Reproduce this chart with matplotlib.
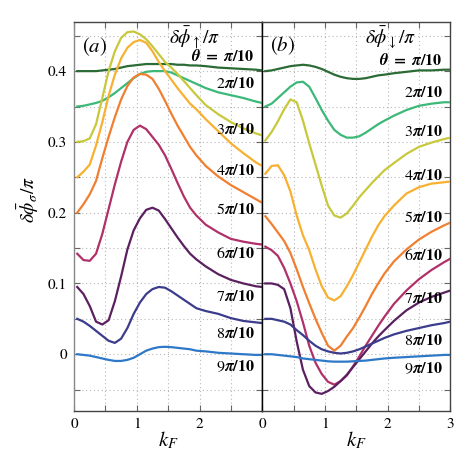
import matplotlib
matplotlib.use("Agg")
import matplotlib.pyplot as plt

# gemeinsames k_F-Raster
kf = [0.05, 0.15, 0.25, 0.35, 0.45, 0.55, 0.65, 0.75, 0.85, 0.95,
      1.05, 1.15, 1.25, 1.35, 1.45, 1.55, 1.65, 1.75, 1.85, 1.95,
      2.1, 2.3, 2.5, 2.7, 2.9, 3.0]

labels = ["π/10", "2π/10", "3π/10", "4π/10", "5π/10", "6π/10", "7π/10", "8π/10", "9π/10"]
colors = ["#2b6b35", "#3cb878", "#c8c83c", "#f8b030", "#f07f30",
          "#b0306a", "#5a2060", "#3b3c8c", "#2e78c8"]

# (a) delta phi_up / pi
up_1 = [0.400, 0.400, 0.400, 0.400, 0.401, 0.402, 0.403, 0.405, 0.407, 0.408,
        0.409, 0.410, 0.410, 0.410, 0.410, 0.410, 0.409, 0.409, 0.408, 0.408,
        0.407, 0.405, 0.404, 0.403, 0.402, 0.401]
up_2 = [0.350, 0.351, 0.353, 0.355, 0.358, 0.363, 0.369, 0.376, 0.383, 0.390,
        0.396, 0.399, 0.400, 0.400, 0.400, 0.398, 0.394, 0.390, 0.386, 0.382,
        0.376, 0.370, 0.366, 0.362, 0.357, 0.355]
up_3 = [0.300, 0.301, 0.305, 0.325, 0.362, 0.400, 0.428, 0.447, 0.455, 0.456,
        0.452, 0.445, 0.435, 0.424, 0.413, 0.405, 0.396, 0.386, 0.376, 0.366,
        0.352, 0.339, 0.328, 0.319, 0.312, 0.309]
up_4 = [0.250, 0.258, 0.268, 0.295, 0.328, 0.365, 0.395, 0.418, 0.433, 0.441,
        0.444, 0.440, 0.428, 0.413, 0.400, 0.388, 0.376, 0.365, 0.354, 0.346,
        0.332, 0.315, 0.298, 0.284, 0.271, 0.266]
up_5 = [0.200, 0.212, 0.226, 0.245, 0.277, 0.307, 0.335, 0.360, 0.379, 0.391,
        0.396, 0.395, 0.389, 0.375, 0.358, 0.340, 0.323, 0.308, 0.293, 0.281,
        0.266, 0.251, 0.239, 0.229, 0.219, 0.214]
up_6 = [0.142, 0.133, 0.132, 0.142, 0.170, 0.205, 0.240, 0.272, 0.300, 0.317,
        0.323, 0.318, 0.307, 0.296, 0.281, 0.262, 0.242, 0.223, 0.207, 0.196,
        0.183, 0.172, 0.163, 0.159, 0.156, 0.155]
up_7 = [0.095, 0.085, 0.068, 0.046, 0.042, 0.048, 0.075, 0.110, 0.148, 0.175,
        0.192, 0.204, 0.207, 0.203, 0.191, 0.178, 0.165, 0.153, 0.142, 0.134,
        0.124, 0.113, 0.105, 0.100, 0.096, 0.095]
up_8 = [0.050, 0.046, 0.040, 0.033, 0.026, 0.019, 0.016, 0.022, 0.037, 0.057,
        0.073, 0.085, 0.092, 0.095, 0.094, 0.089, 0.083, 0.077, 0.071, 0.065,
        0.061, 0.057, 0.051, 0.047, 0.045, 0.044]
up_9 = [0.000, -0.001, -0.002, -0.004, -0.006, -0.008, -0.0095, -0.0095, -0.008, -0.005,
        0.000, 0.005, 0.008, 0.010, 0.0105, 0.010, 0.009, 0.008, 0.007, 0.005,
        0.004, 0.002, 0.001, 0.000, -0.001, -0.001]

# (b) delta phi_down / pi
dn_1 = [0.400, 0.401, 0.403, 0.405, 0.407, 0.408, 0.409, 0.408, 0.406, 0.403,
        0.399, 0.395, 0.392, 0.390, 0.389, 0.389, 0.390, 0.392, 0.394, 0.395,
        0.397, 0.399, 0.401, 0.401, 0.402, 0.402]
dn_2 = [0.350, 0.354, 0.362, 0.370, 0.378, 0.384, 0.385, 0.378, 0.362, 0.345,
        0.330, 0.317, 0.310, 0.306, 0.306, 0.308, 0.313, 0.319, 0.325, 0.330,
        0.337, 0.345, 0.351, 0.354, 0.356, 0.356]
dn_3 = [0.302, 0.314, 0.329, 0.346, 0.360, 0.356, 0.330, 0.298, 0.268, 0.238,
        0.210, 0.196, 0.193, 0.199, 0.210, 0.222, 0.232, 0.242, 0.251, 0.260,
        0.270, 0.283, 0.293, 0.299, 0.304, 0.306]
dn_4 = [0.255, 0.266, 0.267, 0.253, 0.230, 0.196, 0.168, 0.147, 0.120, 0.096,
        0.080, 0.076, 0.082, 0.096, 0.112, 0.130, 0.148, 0.166, 0.182, 0.195,
        0.210, 0.227, 0.236, 0.241, 0.243, 0.244]
dn_5 = [0.195, 0.184, 0.172, 0.160, 0.143, 0.120, 0.095, 0.072, 0.050, 0.030,
        0.012, 0.005, 0.012, 0.025, 0.037, 0.052, 0.068, 0.085, 0.100, 0.114,
        0.131, 0.148, 0.162, 0.173, 0.182, 0.186]
dn_6 = [0.152, 0.147, 0.139, 0.122, 0.100, 0.075, 0.045, 0.012, -0.012, -0.028,
        -0.039, -0.043, -0.038, -0.030, -0.017, -0.003, 0.012, 0.026, 0.040, 0.053,
        0.071, 0.090, 0.106, 0.119, 0.130, 0.135]
dn_7 = [0.100, 0.100, 0.098, 0.092, 0.065, 0.018, -0.022, -0.045, -0.054, -0.056,
        -0.052, -0.046, -0.038, -0.029, -0.018, -0.007, 0.004, 0.015, 0.025, 0.034,
        0.047, 0.062, 0.073, 0.081, 0.087, 0.090]
dn_8 = [0.050, 0.050, 0.048, 0.046, 0.042, 0.034, 0.027, 0.019, 0.012, 0.007,
        0.004, 0.002, 0.001, 0.002, 0.004, 0.007, 0.011, 0.015, 0.019, 0.023,
        0.028, 0.033, 0.037, 0.041, 0.044, 0.046]
dn_9 = [0.000, 0.000, -0.001, -0.002, -0.003, -0.004, -0.006, -0.007, -0.008, -0.009,
        -0.010, -0.0105, -0.0105, -0.0105, -0.010, -0.0095, -0.009, -0.008, -0.007, -0.006,
        -0.005, -0.004, -0.003, -0.002, -0.001, -0.001]

# Lage der Beschriftungen (y-Werte)
label_y_up = [0.421, 0.382, 0.317, 0.259, 0.2045, 0.1425, 0.081, 0.0296, -0.0175]
label_y_dn = [0.416, 0.370, 0.315, 0.252, 0.193, 0.140, 0.079, 0.019, -0.0197]

xticks = [0, 0.5, 1, 1.5, 2, 2.5, 3]
xticklabels_a = ["0", "", "1", "", "2", "", ""]
xticklabels_b = ["0", "", "1", "", "2", "", "3"]
yticks = [-0.05, 0, 0.05, 0.1, 0.15, 0.2, 0.25, 0.3, 0.35, 0.4, 0.45]
yticklabels = ["", "0", "", "0.1", "", "0.2", "", "0.3", "", "0.4", ""]

plt.rcParams["font.family"] = "STIXGeneral"
plt.rcParams["mathtext.fontset"] = "stix"

fig = plt.figure(figsize=(4.75, 4.69), dpi=100)
ax_a = fig.add_axes([0.156, 0.124, 0.396, 0.83])
ax_b = fig.add_axes([0.552, 0.124, 0.396, 0.83])

up = [up_1, up_2, up_3, up_4, up_5, up_6, up_7, up_8, up_9]
dn = [dn_1, dn_2, dn_3, dn_4, dn_5, dn_6, dn_7, dn_8, dn_9]


def theta_label(s, first):
    num, den = s.split("/")
    num = num.replace("π", r"\boldsymbol{\pi}")
    if first:
        return r"$\boldsymbol{\theta}\ \mathbf{=}\ " + num + r"\mathbf{/" + den + "}$"
    return "$" + num + r"\mathbf{/" + den + "}$"


for ax, data, ly, xtl in [(ax_a, up, label_y_up, xticklabels_a),
                          (ax_b, dn, label_y_dn, xticklabels_b)]:
    for i, ys in enumerate(data):
        ax.plot(kf, ys, color=colors[i], lw=1.6, zorder=3)
        ax.text(2.88, ly[i], theta_label(labels[i], i == 0), ha="right", va="center",
                fontsize=11.5, zorder=4)
    ax.set_xlim(0, 3)
    ax.set_ylim(-0.08, 0.47)
    ax.set_xticks(xticks)
    ax.set_xticklabels(xtl, fontsize=11)
    ax.set_yticks(yticks)
    ax.grid(True, ls=(0, (1, 2.5)), color="#b8b8b8", lw=0.8, zorder=0)
    ax.tick_params(direction="in", top=True, right=True, length=4.5,
                   color="#666666", width=0.8, pad=5)
    for sp in ax.spines.values():
        sp.set_color("#444444")
        sp.set_linewidth(1.0)
    ax.text(1.5, -0.122, r"$k_F$", ha="center", va="center", fontsize=15)

ax_a.set_yticklabels(yticklabels, fontsize=11)
ax_b.set_yticklabels([])
ax_a.spines["left"].set_color("#888888")
ax_a.spines["right"].set_color("black")
ax_b.spines["left"].set_color("black")

ax_a.text(0.33, 0.434, r"$(a)$", ha="center", va="center", fontsize=15)
ax_b.text(0.33, 0.436, r"$(b)$", ha="center", va="center", fontsize=15)
ax_a.text(1.92, 0.447, r"$\delta\bar{\phi}_{\uparrow}/\pi$", ha="center", va="center", fontsize=14)
ax_b.text(2.05, 0.447, r"$\delta\bar{\phi}_{\downarrow}/\pi$", ha="center", va="center", fontsize=14)

fig.text(0.06, 0.575, r"$\delta\bar{\phi}_{\sigma}/\pi$", rotation=90,
         ha="center", va="center", fontsize=14)

fig.savefig("out.png", dpi=100)
